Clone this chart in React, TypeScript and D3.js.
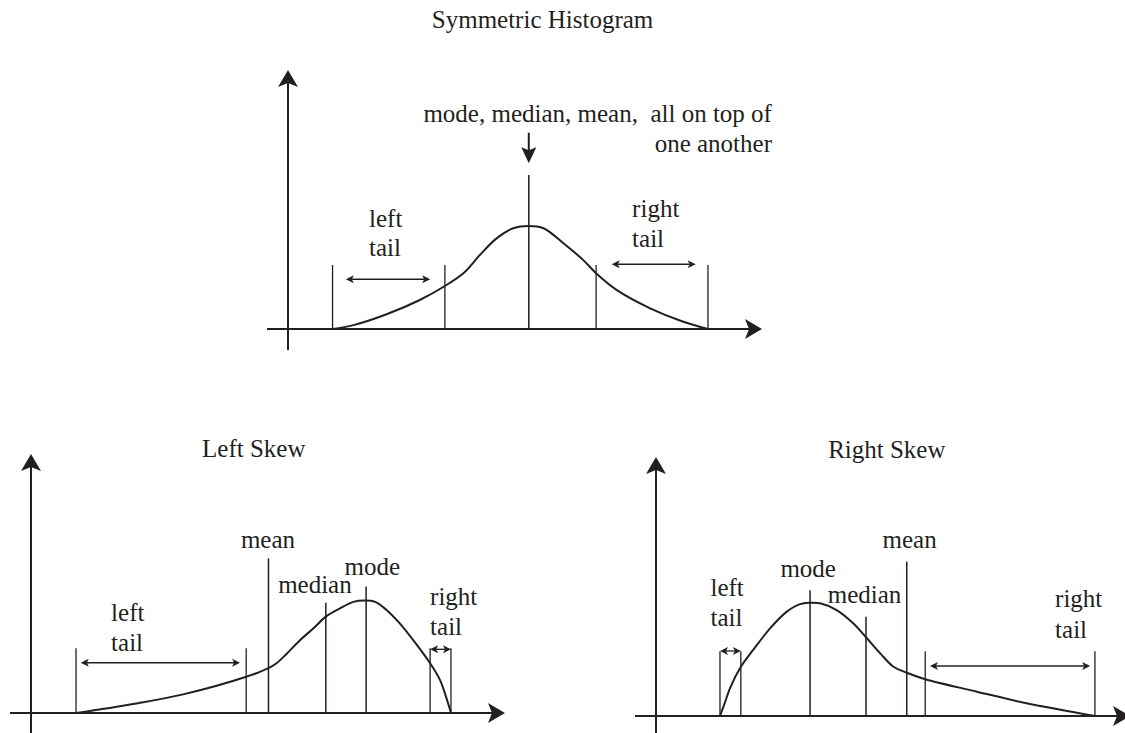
import React from 'react';
import * as d3 from 'd3';

const INK = '#231f20';
const FONT = '"Liberation Serif", "Times New Roman", Times, serif';

// ---------- Symmetric histogram (units: x 0..100 along axis, y 0..100 up) ----------
const symCurveX = [9.4, 13.8, 20.8, 27.8, 33.1, 37.0, 40.5, 44.0, 47.5, 50.8, 53.9, 58.1, 62.3, 65.0, 69.3, 76.4, 83.4, 88.6];
const symCurveY = [0, 1.5, 5.7, 11.2, 16.6, 21.5, 28.6, 35.0, 38.9, 39.8, 38.9, 33.1, 26.6, 21.5, 15.1, 8.0, 2.8, 0];
const symBounds = [9.4, 33.1, 65.0, 88.6];
const symBoundHeight = 24.7;
const symStatNames = [''];
const symStatValues = [50.8];
const symStatHeights = [59.5];
const symTailFrom = [12.2, 68.3];
const symTailTo = [30.0, 86.0];
const symTailLevel = [19.2, 25.0];

// ---------- Left skew ----------
const leftCurveX = [9.5, 21.6, 32.1, 45.4, 50.1, 51.8, 53.9, 56.8, 59.6, 62.2, 65.2, 68.0, 70.4, 72.6, 75.0, 77.8, 81.4, 84.2, 86.3, 88.0, 88.6];
const leftCurveY = [0, 3.5, 7.2, 14.0, 17.3, 19.2, 22.8, 28.2, 32.7, 37.2, 40.4, 42.9, 43.4, 42.9, 39.8, 34.6, 26.3, 19.2, 12.7, 3.7, 0];
const leftBounds = [9.5, 45.4, 84.2, 88.6];
const leftBoundHeight = 25.0;
const leftStatNames = ['mean', 'median', 'mode'];
const leftStatValues = [50.1, 62.2, 70.7];
const leftStatHeights = [59.7, 42.6, 48.8];
const leftTailFrom = [10.5, 84.2];
const leftTailTo = [44.1, 88.6];
const leftTailLevel = [19.4, 24.6];

// ---------- Right skew ----------
const rightCurveX = [13.5, 14.6, 15.6, 17.9, 20.5, 24.1, 27.6, 30.4, 32.5, 34.6, 38.1, 41.6, 44.3, 47.3, 50.1, 52.9, 56.8, 67.7, 78.2, 92.6];
const rightCurveY = [0, 5.5, 10.7, 19.0, 25.5, 33.9, 40.3, 43.2, 43.7, 43.5, 40.9, 35.8, 30.4, 24.2, 19.0, 16.7, 14.2, 9.4, 4.9, 0];
const rightBounds = [13.5, 17.9, 56.8, 92.6];
const rightBoundHeight = 25.0;
const rightStatNames = ['mode', 'median', 'mean'];
const rightStatValues = [32.5, 44.3, 52.9];
const rightStatHeights = [48.6, 38.3, 59.6];
const rightTailFrom = [13.5, 57.8];
const rightTailTo = [17.9, 91.6];
const rightTailLevel = [25.1, 19.3];

const titles = ['Symmetric Histogram', 'Left Skew', 'Right Skew'];

function head(tx: number, ty: number, dx: number, dy: number, len: number, hw: number, notch: number) {
  const n = Math.hypot(dx, dy);
  const ux = dx / n, uy = dy / n;
  const px = -uy, py = ux;
  const bx = tx - ux * len, by = ty - uy * len;
  const nx = tx - ux * (len - notch), ny = ty - uy * (len - notch);
  return `M${tx},${ty}L${bx + px * hw},${by + py * hw}L${nx},${ny}L${bx - px * hw},${by - py * hw}Z`;
}

type Txt = { t: string; x: number; y: number; anchor?: string };

function Panel(props: {
  ox: number; oy: number;
  cx: number[]; cy: number[];
  bounds: number[]; boundH: number;
  statNames: string[]; statValues: number[]; statHeights: number[];
  tailFrom: number[]; tailTo: number[]; tailLevel: number[];
  texts: Txt[];
}) {
  const { ox, oy } = props;
  const x = d3.scaleLinear().domain([0, 100]).range([ox, ox + 474]);
  const y = d3.scaleLinear().domain([0, 100]).range([oy, oy - 259]);
  const idx = d3.range(props.cx.length);
  const line = d3.line<number>()
    .x(i => x(props.cx[i]))
    .y(i => y(props.cy[i]))
    .curve(d3.curveCatmullRom.alpha(0.5));
  const axLen = 17, axHw = 10, axNotch = 4;
  const tailHead = 8, tailHw = 4, tailNotch = 2;
  return (
    <g>
      {/* axes */}
      <line x1={x(-4.43)} y1={y(0)} x2={x(100) - axLen + axNotch} y2={y(0)} stroke={INK} strokeWidth={2} />
      <path d={head(x(100), y(0), 1, 0, axLen, axHw, axNotch)} fill={INK} />
      <line x1={x(0)} y1={y(-8.1)} x2={x(0)} y2={y(100) + axLen - axNotch} stroke={INK} strokeWidth={2} />
      <path d={head(x(0), y(100), 0, -1, axLen, axHw, axNotch)} fill={INK} />
      {/* tail boundaries */}
      {props.bounds.map((b, i) => (
        <line key={'b' + i} x1={x(b)} x2={x(b)} y1={y(0)} y2={y(props.boundH)} stroke={INK} strokeWidth={1.3} />
      ))}
      {/* stat lines */}
      {props.statValues.map((v, i) => (
        <line key={'s' + i} x1={x(v)} x2={x(v)} y1={y(0)} y2={y(props.statHeights[i])} stroke={INK} strokeWidth={1.5} />
      ))}
      {/* curve */}
      <path d={line(idx) || ''} fill="none" stroke={INK} strokeWidth={2} />
      {/* tail arrows */}
      {props.tailFrom.map((f, i) => {
        const x1 = x(f), x2 = x(props.tailTo[i]), yy = y(props.tailLevel[i]);
        return (
          <g key={'t' + i}>
            <line x1={x1 + tailHead - tailNotch} x2={x2 - tailHead + tailNotch} y1={yy} y2={yy} stroke={INK} strokeWidth={1.3} />
            <path d={head(x1, yy, -1, 0, tailHead, tailHw, tailNotch)} fill={INK} />
            <path d={head(x2, yy, 1, 0, tailHead, tailHw, tailNotch)} fill={INK} />
          </g>
        );
      })}
      {props.texts.map((t, i) => (
        <text key={'x' + i} x={x(t.x)} y={y(t.y)} textAnchor={t.anchor || 'start'}
          fontFamily={FONT} fontSize={25} fill={INK} style={{ whiteSpace: 'pre' }}>{t.t}</text>
      ))}
    </g>
  );
}

export default function App() {
  // down arrow in symmetric panel
  const sx = d3.scaleLinear().domain([0, 100]).range([288, 762]);
  const sy = d3.scaleLinear().domain([0, 100]).range([329, 70]);
  const ax = sx(symStatValues[0]);
  const aTop = sy(75.8), aTip = sy(64.0);
  return (
    <svg width={1125} height={733} style={{ position: 'absolute', left: 0, top: 0, background: '#fff' }}>
      <rect width={1125} height={733} fill="#fff" />
      <Panel ox={288} oy={329} cx={symCurveX} cy={symCurveY}
        bounds={symBounds} boundH={symBoundHeight}
        statNames={symStatNames} statValues={symStatValues} statHeights={symStatHeights}
        tailFrom={symTailFrom} tailTo={symTailTo} tailLevel={symTailLevel}
        texts={[
          { t: titles[0], x: 53.7, y: 116.1, anchor: 'middle' },
          { t: 'mode, median, mean,  all on top of', x: 102.1, y: 80.0, anchor: 'end' },
          { t: 'one another', x: 102.1, y: 68.4, anchor: 'end' },
          { t: 'left', x: 17.1, y: 39.5 },
          { t: 'tail', x: 17.1, y: 28.2 },
          { t: 'right', x: 72.6, y: 43.4 },
          { t: 'tail', x: 72.6, y: 31.8 },
        ]} />
      <line x1={ax} x2={ax} y1={aTop} y2={aTip - 12} stroke={INK} strokeWidth={2} />
      <path d={head(ax, aTip, 0, 1, 16, 7.5, 3)} fill={INK} />
      <Panel ox={31} oy={713} cx={leftCurveX} cy={leftCurveY}
        bounds={leftBounds} boundH={leftBoundHeight}
        statNames={leftStatNames} statValues={leftStatValues} statHeights={leftStatHeights}
        tailFrom={leftTailFrom} tailTo={leftTailTo} tailLevel={leftTailLevel}
        texts={[
          { t: titles[1], x: 47.0, y: 98.8, anchor: 'middle' },
          { t: leftStatNames[0], x: 50.0, y: 63.6, anchor: 'middle' },
          { t: leftStatNames[1], x: 59.9, y: 46.4, anchor: 'middle' },
          { t: leftStatNames[2], x: 72.0, y: 53.3, anchor: 'middle' },
          { t: 'left', x: 16.9, y: 35.6 },
          { t: 'tail', x: 16.9, y: 23.9 },
          { t: 'right', x: 84.2, y: 41.7 },
          { t: 'tail', x: 84.2, y: 30.1 },
        ]} />
      <Panel ox={656} oy={716} cx={rightCurveX} cy={rightCurveY}
        bounds={rightBounds} boundH={rightBoundHeight}
        statNames={rightStatNames} statValues={rightStatValues} statHeights={rightStatHeights}
        tailFrom={rightTailFrom} tailTo={rightTailTo} tailLevel={rightTailLevel}
        texts={[
          { t: titles[2], x: 48.7, y: 99.6, anchor: 'middle' },
          { t: rightStatNames[0], x: 32.1, y: 53.8, anchor: 'middle' },
          { t: rightStatNames[1], x: 44.0, y: 43.5, anchor: 'middle' },
          { t: rightStatNames[2], x: 53.5, y: 64.7, anchor: 'middle' },
          { t: 'left', x: 11.5, y: 46.4 },
          { t: 'tail', x: 11.5, y: 34.8 },
          { t: 'right', x: 84.2, y: 42.0 },
          { t: 'tail', x: 84.2, y: 30.0 },
        ]} />
    </svg>
  );
}
